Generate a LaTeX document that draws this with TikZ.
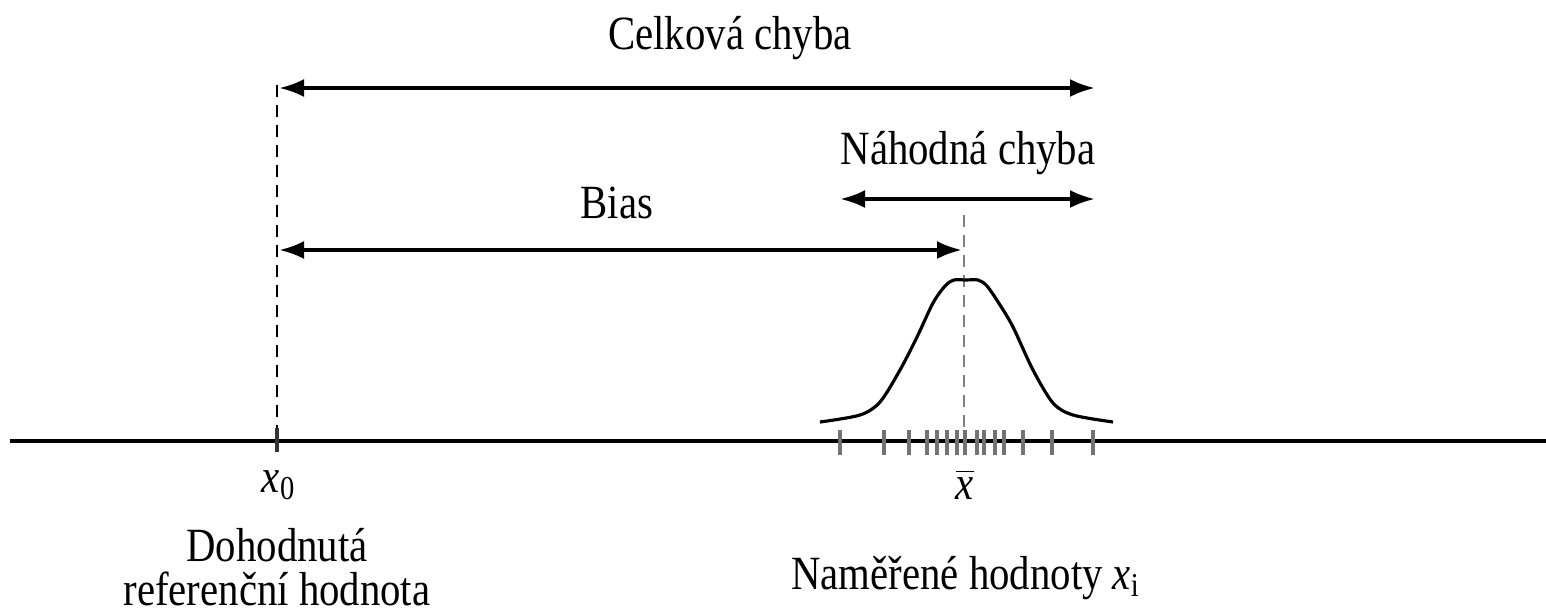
\documentclass[tikz,border=0pt]{standalone}
\usepackage{fontspec}
\setmainfont{Liberation Serif}
\usetikzlibrary{arrows.meta}
\newcommand\tall[1]{\scalebox{1}[1.17]{#1}}
\begin{document}
\begin{tikzpicture}[x=0.1mm,y=-0.1mm,
  lbl/.style={font=\fontsize{11.6}{13}\selectfont, inner sep=0pt, anchor=center},
  dimarrow/.style={line width=1.1pt, {Latex[length=2.5mm,width=1.8mm]}-{Latex[length=2.5mm,width=1.8mm]}},
  guide/.style={line width=0.5pt, dash pattern=on 1.2mm off 0.8mm},
  tickmark/.style={line width=1pt, draw=black!55}]
\useasboundingbox (0,0) rectangle (1546,611);
% axis
\coordinate (axL) at (10,441);
\coordinate (axR) at (1546,441);
\draw[line width=1.2pt] (axL) -- (axR);
% reference point
\coordinate (x0) at (277,441);
\coordinate (x0top) at (277,85);
\draw[guide] (x0top) -- (x0);
\coordinate (x0t1) at (277,428);
\coordinate (x0t2) at (277,452);
\draw[line width=1pt, draw=black!80] (x0t1) -- (x0t2);
% mean
\coordinate (xm) at (964,441);
\coordinate (xmtop) at (964,215);
\draw[guide, draw=black!50] (xmtop) -- (xm);
% distribution curve
\draw[line width=0.9pt] plot[smooth, tension=0.5] coordinates {
  (820,422) (860,415) (880,402) (900,370) (917,337) (933,303) (945,286) (954,280)
  (966,280) (978,280) (987,286) (1000,305) (1013,327) (1033,370) (1053,403) (1073,415) (1113,422)};
% ticks
\foreach \t in {840,884,909,927,937,947,957,965,977,984,995,1004,1023,1052,1093}{
  \draw[tickmark] (\t,430) -- (\t,455);
}
% arrows
\coordinate (cL) at (279,88);
\coordinate (cR) at (1095,88);
\draw[dimarrow] (cL) -- (cR);
\coordinate (nL) at (840,199);
\coordinate (nR) at (1095,199);
\draw[dimarrow] (nL) -- (nR);
\coordinate (bL) at (279,250);
\coordinate (bR) at (962,250);
\draw[dimarrow] (bL) -- (bR);
% labels
\node[lbl] (celk) at (730,38) {\tall{Celková chyba}};
\node[lbl] (nah) at (968,153) {\tall{Náhodná chyba}};
\node[lbl] (bias) at (617,203) {\tall{Bias}};
\node[lbl] (x0lbl) at (279,485) {\tall{\textit{x}\textsubscript{0}}};
\node[lbl] (xmlbl) at (965,484) {\tall{$\overline{\mbox{\textit{x}}}$}};
\node[lbl] (doh) at (277,545) {\tall{Dohodnutá}};
\node[lbl] (ref) at (277,589) {\tall{referenční hodnota}};
\node[lbl] (nam) at (966,578) {\tall{Naměřené hodnoty \textit{x}\textsubscript{i}}};
\end{tikzpicture}
\end{document}
